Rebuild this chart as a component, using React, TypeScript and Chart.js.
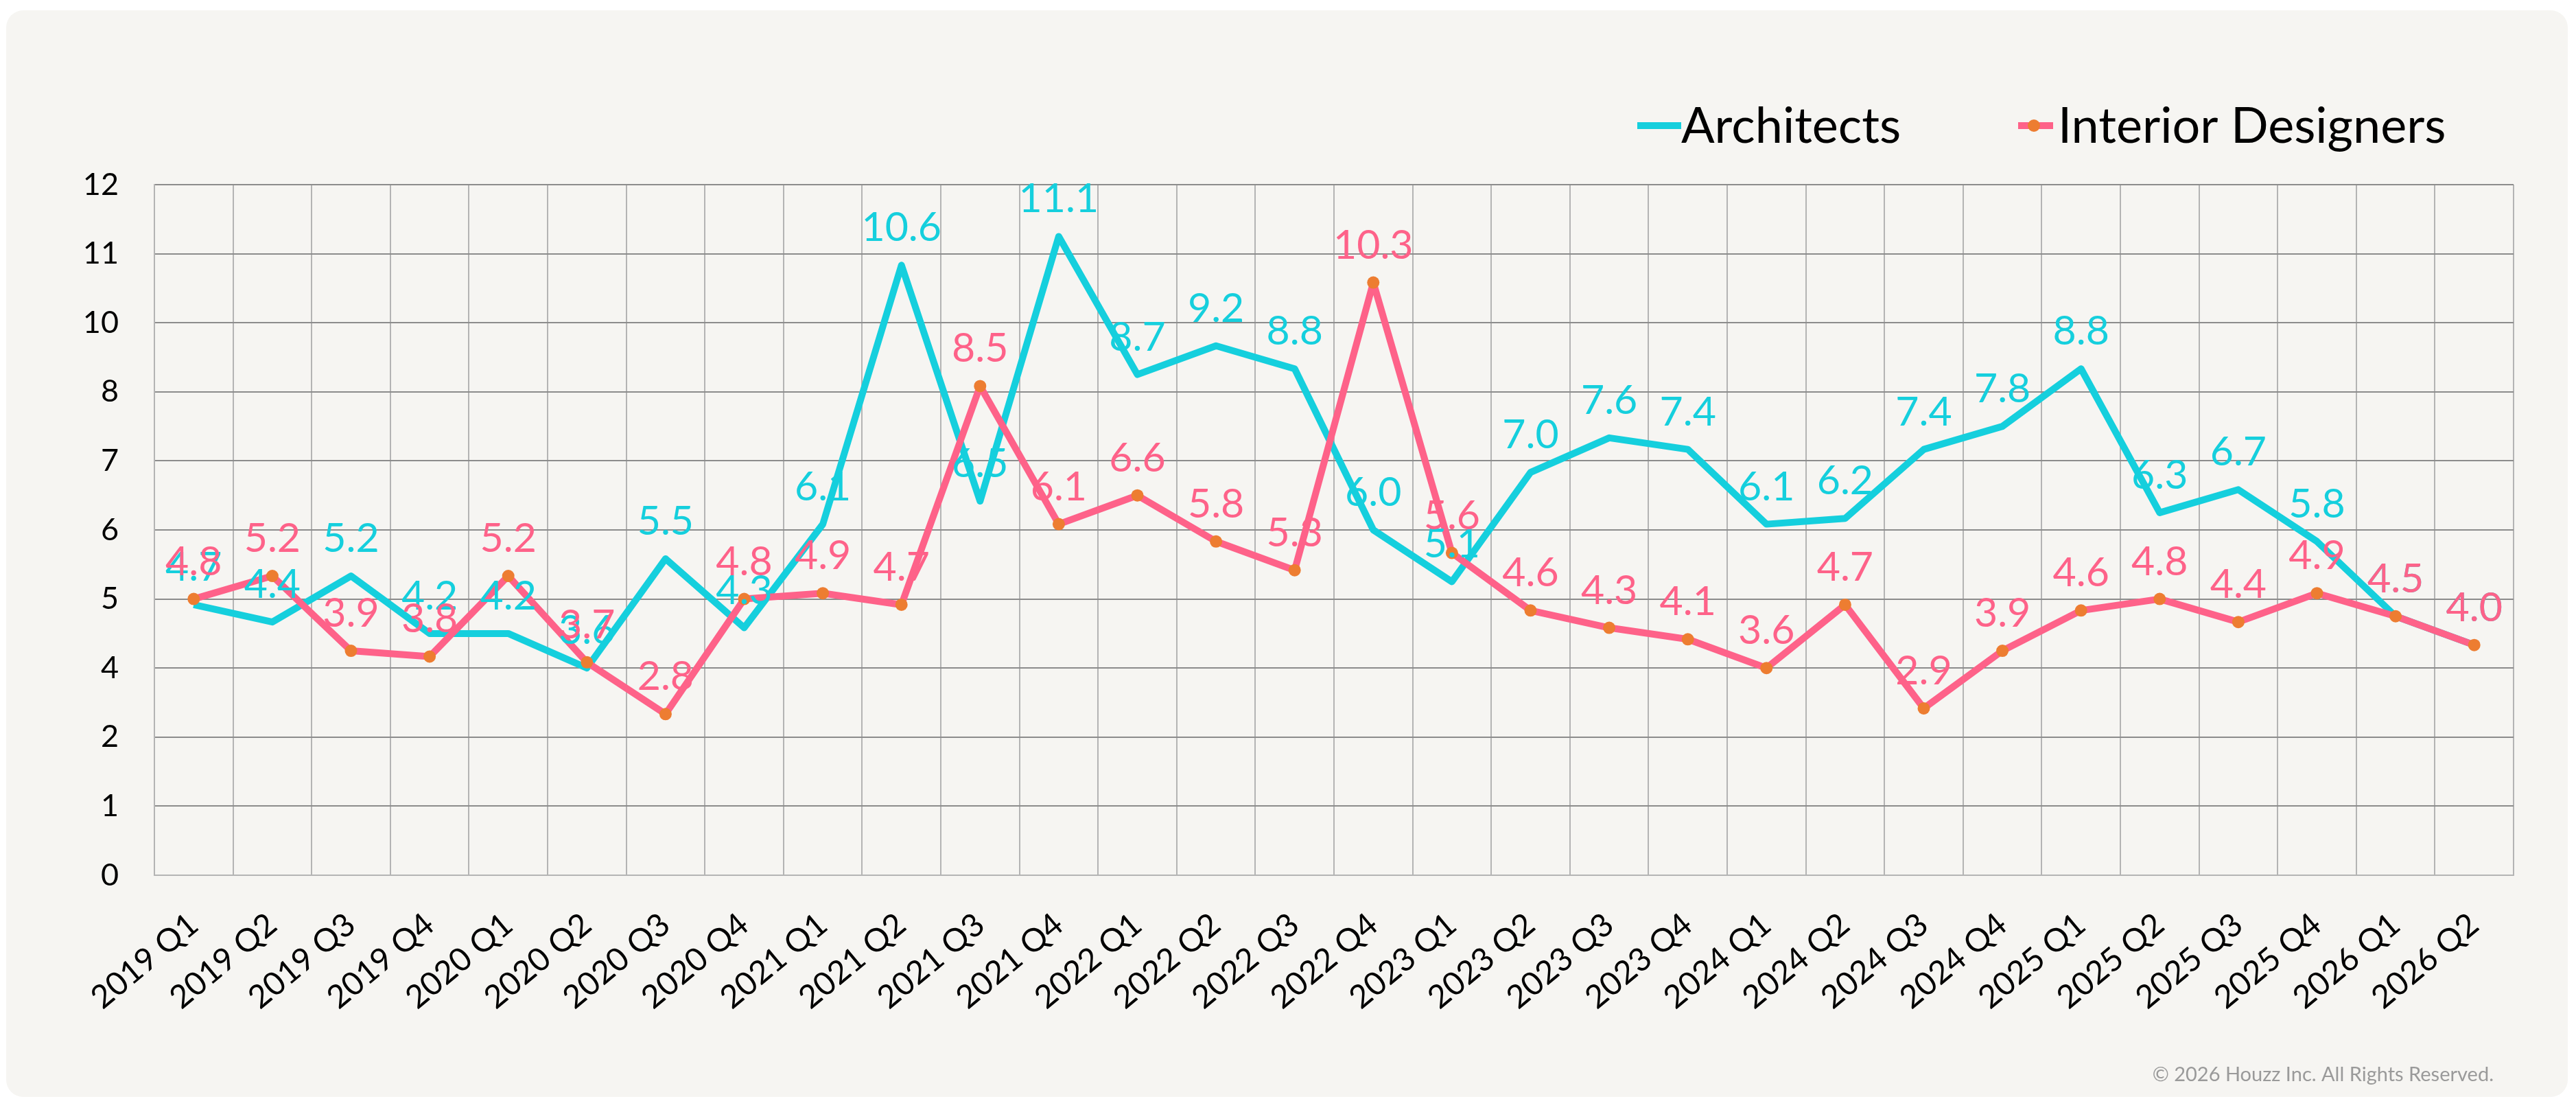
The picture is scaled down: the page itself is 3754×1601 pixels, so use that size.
import React, { useEffect, useRef } from "react";
import { Chart, registerables } from "chart.js";

Chart.register(...registerables);

// ---- data ----
const categories = [
  "2019 Q1", "2019 Q2", "2019 Q3", "2019 Q4",
  "2020 Q1", "2020 Q2", "2020 Q3", "2020 Q4",
  "2021 Q1", "2021 Q2", "2021 Q3", "2021 Q4",
  "2022 Q1", "2022 Q2", "2022 Q3", "2022 Q4",
  "2023 Q1", "2023 Q2", "2023 Q3", "2023 Q4",
  "2024 Q1", "2024 Q2", "2024 Q3", "2024 Q4",
  "2025 Q1", "2025 Q2", "2025 Q3", "2025 Q4",
  "2026 Q1", "2026 Q2",
];
const architects = [
  4.7, 4.4, 5.2, 4.2, 4.2, 3.6, 5.5, 4.3, 6.1, 10.6, 6.5, 11.1, 8.7, 9.2, 8.8,
  6.0, 5.1, 7.0, 7.6, 7.4, 6.1, 6.2, 7.4, 7.8, 8.8, 6.3, 6.7, 5.8, 4.5, 4.0,
];
const interiorDesigners = [
  4.8, 5.2, 3.9, 3.8, 5.2, 3.7, 2.8, 4.8, 4.9, 4.7, 8.5, 6.1, 6.6, 5.8, 5.3,
  10.3, 5.6, 4.6, 4.3, 4.1, 3.6, 4.7, 2.9, 3.9, 4.6, 4.8, 4.4, 4.9, 4.5, 4.0,
];
const seriesNames = ["Architects", "Interior Designers"];
const yTickValues = [0, 1.2, 2.4, 3.6, 4.8, 6, 7.2, 8.4, 9.6, 10.8, 12];
const copyright = "© 2026 Houzz Inc. All Rights Reserved.";

// ---- style ----
const W = 3733;
const H = 1583;
const FONT = "Lato, 'Open Sans', sans-serif";
const CYAN = "#15cfdd";
const PINK = "#fe6289";
const ORANGE = "#ed7d31";
const CARD_BG = "#f6f5f2";

export default function App() {
  const ref = useRef<HTMLCanvasElement>(null);

  useEffect(() => {
    const canvas = ref.current;
    if (!canvas) return;

    const valueLabels = {
      id: "valueLabels",
      afterDatasetsDraw(chart: any) {
        const ctx = chart.ctx;
        ctx.save();
        ctx.font = `59px ${FONT}`;
        ctx.textAlign = "center";
        ctx.textBaseline = "middle";
        chart.data.datasets.forEach((ds: any, di: number) => {
          const meta = chart.getDatasetMeta(di);
          ctx.fillStyle = ds.borderColor;
          meta.data.forEach((pt: any, i: number) => {
            const v = ds.data[i] as number;
            ctx.fillText(v.toFixed(1), pt.x, pt.y - 54);
          });
        });
        ctx.restore();
      },
    };

    const decor = {
      id: "decor",
      afterDraw(chart: any) {
        const ctx = chart.ctx;
        ctx.save();
        // legend
        const ly = 168;
        ctx.lineWidth = 10;
        ctx.lineCap = "butt";
        ctx.strokeStyle = CYAN;
        ctx.beginPath();
        ctx.moveTo(2377, ly);
        ctx.lineTo(2441, ly);
        ctx.stroke();
        ctx.strokeStyle = PINK;
        ctx.beginPath();
        ctx.moveTo(2932, ly);
        ctx.lineTo(2983, ly);
        ctx.stroke();
        ctx.fillStyle = ORANGE;
        ctx.beginPath();
        ctx.arc(2955, ly, 9, 0, Math.PI * 2);
        ctx.fill();
        ctx.fillStyle = "#000";
        ctx.font = `72px ${FONT}`;
        ctx.textAlign = "left";
        ctx.textBaseline = "alphabetic";
        ctx.fillText(seriesNames[0], 2441, 193);
        ctx.fillText(seriesNames[1], 2990, 193);
        // copyright
        ctx.fillStyle = "#9a9a9a";
        ctx.font = `29px ${FONT}`;
        ctx.textAlign = "right";
        ctx.fillText(copyright, 3625, 1560);
        ctx.restore();
      },
    };

    const chart = new Chart(canvas, {
      type: "line",
      data: {
        labels: categories,
        datasets: [
          {
            label: seriesNames[0],
            data: architects,
            borderColor: CYAN,
            backgroundColor: CYAN,
            borderWidth: 10,
            pointRadius: 0,
            pointHoverRadius: 0,
            tension: 0,
            borderJoinStyle: "round",
            order: 2,
          },
          {
            label: seriesNames[1],
            data: interiorDesigners,
            borderColor: PINK,
            backgroundColor: ORANGE,
            pointBackgroundColor: ORANGE,
            pointBorderColor: ORANGE,
            pointBorderWidth: 0,
            pointRadius: 9,
            borderWidth: 10,
            tension: 0,
            borderJoinStyle: "round",
            order: 1,
          },
        ],
      },
      options: {
        animation: false,
        responsive: false,
        devicePixelRatio: 1,
        layout: { padding: { left: 60, top: 254, right: 79, bottom: 0 } },
        plugins: {
          legend: { display: false },
          tooltip: { enabled: false },
        },
        scales: {
          x: {
            offset: true,
            grid: { offset: true, color: "#b4b4b4", lineWidth: 2, drawTicks: false },
            border: { color: "#b4b4b4", width: 2 },
            ticks: {
              autoSkip: false,
              maxRotation: 40,
              minRotation: 40,
              padding: 44,
              color: "#000",
              font: { family: FONT, size: 47 },
            },
            afterFit: (s: any) => {
              s.height = 323;
            },
          },
          y: {
            min: 0,
            max: 12,
            grid: { color: "#8c8c8c", lineWidth: 2, drawTicks: false },
            border: { display: true, color: "#b4b4b4", width: 2 },
            ticks: {
              padding: 52,
              color: "#000",
              font: { family: FONT, size: 45 },
              callback: (v: any) => String(Math.round(Number(v))),
            },
            afterBuildTicks: (s: any) => {
              s.ticks = yTickValues.map((value) => ({ value }));
            },
            afterFit: (s: any) => {
              s.width = 156;
            },
          },
        },
      },
      plugins: [valueLabels, decor],
    } as any);

    return () => chart.destroy();
  }, []);

  return (
    <div
      style={{
        position: "absolute",
        left: 9,
        top: 15,
        width: W,
        height: H,
        borderRadius: 25,
        background: CARD_BG,
        overflow: "hidden",
      }}
    >
      <canvas ref={ref} width={W} height={H} style={{ display: "block", width: W, height: H }} />
    </div>
  );
}
